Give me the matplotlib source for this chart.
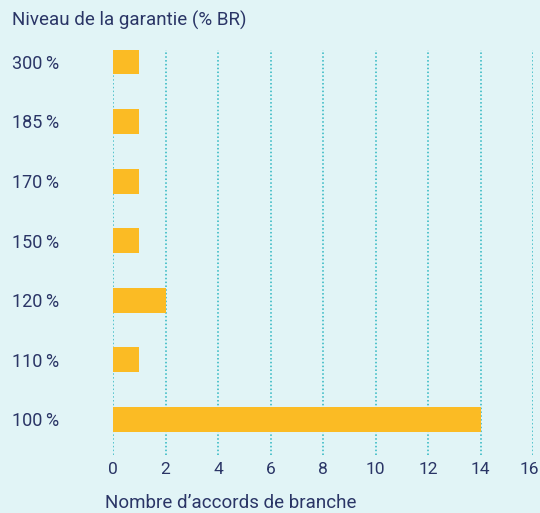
import matplotlib.pyplot as plt
import matplotlib.transforms as mtransforms
import numpy as np

plt.rcParams['font.family'] = ['Roboto', 'DejaVu Sans']

# niveaux de garantie, du bas vers le haut
niveaux = ['100\u202f%', '110\u202f%', '120\u202f%', '150\u202f%', '170\u202f%', '185\u202f%', '300\u202f%']
accords = [14, 1, 2, 1, 1, 1, 1]
ticks_x = [0, 2, 4, 6, 8, 10, 12, 14, 16]

bg = '#e1f4f6'
navy = '#2a3566'
jaune = '#fbbb24'
turquoise = '#2bb6c1'

fig = plt.figure(figsize=(5.4, 5.13), dpi=100, facecolor=bg)
ax = fig.add_axes([113 / 540, 1 - 455 / 513, 420 / 540, 405 / 513])
ax.set_facecolor(bg)

y = np.arange(len(niveaux))
ax.barh(y, accords, height=0.42, color=jaune, zorder=3)

ax.set_xlim(0, 16)
ax.set_ylim(-0.6, 6.2)
ax.set_xticks(ticks_x)
ax.set_yticks(y)
ax.set_yticklabels(niveaux, ha='left')
ax.tick_params(axis='y', length=0, pad=73, labelsize=13, labelcolor=navy)
ax.tick_params(axis='x', length=0, pad=5, labelsize=12.5, labelcolor=navy)

# le dernier label touche le bord droit : petit décalage vers la gauche
last = ax.get_xticklabels()[-1]
last.set_transform(last.get_transform() + mtransforms.ScaledTranslation(-4 / 100, 0, fig.dpi_scale_trans))

ax.grid(axis='x', color=turquoise, linestyle=(0, (1, 1.5)), linewidth=1.1, zorder=0)
ax.grid(axis='y', visible=False)
for s in ax.spines.values():
    s.set_visible(False)

fig.text(12 / 540, 1 - 20 / 513, 'Niveau de la garantie (% BR)', fontsize=13.5, color=navy,
         ha='left', va='center')
fig.text(105 / 540, 1 - 503 / 513, 'Nombre d\u2019accords de branche', fontsize=13.5, color=navy,
         ha='left', va='center')

fig.savefig('out.png', dpi=100, facecolor=bg)
